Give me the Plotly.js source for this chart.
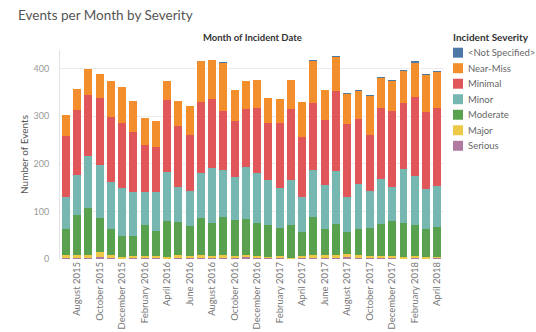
<!DOCTYPE html>
<html>
<head>
<meta charset="utf-8">
<script src="https://cdn.plot.ly/plotly-3.0.1.min.js"></script>
<style>html,body{margin:0;padding:0;background:#fff;}#chart{width:536px;height:332px;}</style>
</head>
<body>
<div id="chart"></div>
<script>
const months = ['July 2015','August 2015','September 2015','October 2015','November 2015','December 2015',
  'January 2016','February 2016','March 2016','April 2016','May 2016','June 2016','July 2016','August 2016',
  'September 2016','October 2016','November 2016','December 2016','January 2017','February 2017','March 2017',
  'April 2017','May 2017','June 2017','July 2017','August 2017','September 2017','October 2017','November 2017',
  'December 2017','January 2018','February 2018','March 2018','April 2018'];
const tickLabels = ['August 2015','October 2015','December 2015','February 2016','April 2016','June 2016',
  'August 2016','October 2016','December 2016','February 2017','April 2017','June 2017','August 2017',
  'October 2017','December 2017','February 2018','April 2018'];

const notSpecified = [0,0,0,0,0,0,0,0,0,0,0,0,0,0,2,0,0,0,0,0,0,0,2,1,3,3,3,1,3,3,3,3,3,2];
const nearMiss = [44,44,54,49,74,77,65,56,54,40,51,61,86,82,102,65,58,59,53,51,61,73,88,63,72,62,58,83,62,63,67,72,78,75];
const minimal  = [128,136,128,142,137,135,125,99,94,151,128,119,149,145,123,116,122,137,120,136,149,125,141,135,167,153,138,117,150,159,138,166,162,164];
const minor    = [68,84,110,111,99,101,92,69,83,102,75,73,94,115,99,92,109,104,93,84,94,74,98,93,112,75,94,77,94,72,113,102,83,86];
const moderate = [54,84,98,72,55,45,43,65,52,76,69,62,77,69,79,75,75,69,67,58,69,50,80,55,65,46,54,60,67,72,72,66,59,62];
const major    = [6,6,7,10,5,3,4,5,4,3,5,5,6,5,6,4,5,4,3,5,2,5,6,6,5,6,7,4,5,5,3,4,3,3];
const serious  = [3,3,2,4,3,1,2,2,2,1,3,2,3,2,3,2,4,3,2,2,1,2,2,2,3,4,2,2,2,2,1,2,1,2];

const severityNames = ['<Not Specified>','Near-Miss','Minimal','Minor','Moderate','Major','Serious'];
const severityColors = ['#4e79a7','#f28e2b','#e15759','#76b7b2','#59a14f','#edc948','#b07aa1'];
const severityValues = [notSpecified, nearMiss, minimal, minor, moderate, major, serious];

const FONT = 'Lato, "Open Sans", sans-serif';
const esc = s => s.replace('<','&lt;').replace('>','&gt;');

// stack from bottom: Serious ... Not Specified
const traces = [];
for (let i = severityNames.length - 1; i >= 0; i--) {
  traces.push({
    type: 'bar', name: severityNames[i], x: months, y: severityValues[i],
    marker: {color: severityColors[i], line: {width: 0}},
    hovertemplate: '%{x}<br>' + esc(severityNames[i]) + ': %{y}<extra></extra>'
  });
}

// pixel geometry of plot area
const L = 60, R = 92, T = 50, B = 72.5, W = 536, H = 332;
const pw = W - L - R, ph = H - T - B;
const px2x = p => (p - L) / pw;
const py2y = p => (H - B - p) / ph;

const annotations = [
  {text: 'Month of Incident Date', xref: 'paper', yref: 'paper', x: 0.5, y: py2y(37.5),
   xanchor: 'center', yanchor: 'middle', showarrow: false,
   font: {family: FONT, size: 9.5, color: '#333', weight: 'bold'}},
  {text: 'Incident Severity', xref: 'paper', yref: 'paper', x: px2x(451), y: py2y(37.3),
   xanchor: 'left', yanchor: 'middle', showarrow: false,
   font: {family: FONT, size: 10, color: '#333', weight: 'bold'}}
];
const shapes = [];
severityNames.forEach((name, i) => {
  const cy = 52.7 + i * 15.55;
  shapes.push({type: 'rect', xref: 'paper', yref: 'paper',
    x0: px2x(453), x1: px2x(463), y0: py2y(cy - 5), y1: py2y(cy + 5),
    fillcolor: severityColors[i], line: {width: 0}});
  annotations.push({text: esc(name), xref: 'paper', yref: 'paper',
    x: px2x(466), y: py2y(cy), xanchor: 'left', yanchor: 'middle', showarrow: false,
    font: {family: FONT, size: 9.5, color: '#666'}});
});

const layout = {
  width: W, height: H,
  margin: {l: L, r: R, t: T, b: B, pad: 0},
  paper_bgcolor: '#fff', plot_bgcolor: '#fff',
  barmode: 'stack', bargap: 0.29,
  showlegend: false,
  title: {text: 'Events per Month by Severity', xref: 'container', yref: 'container',
    x: 18 / W, xanchor: 'left', y: 1 - 15 / H, yanchor: 'middle',
    font: {family: FONT, size: 13.5, color: '#555'}},
  xaxis: {type: 'category', range: [-0.53, 33.6], tickmode: 'array', tickvals: tickLabels, ticktext: tickLabels,
    tickangle: -90, ticks: '', showgrid: false, zeroline: false, showline: false,
    tickfont: {family: FONT, size: 9.5, color: '#777'}, automargin: false},
  yaxis: {range: [0, 439], tickvals: [0, 100, 200, 300, 400], ticks: '', ticklabelstandoff: 8,
    showgrid: true, gridcolor: '#ececec', gridwidth: 1, zeroline: false,
    showline: true, linecolor: '#e2e2e2', linewidth: 1,
    title: {text: 'Number of Events', standoff: 3, font: {family: FONT, size: 10, color: '#555'}},
    tickfont: {family: FONT, size: 9, color: '#999'}, automargin: false},
  annotations: annotations,
  shapes: shapes,
  font: {family: FONT}
};

Plotly.newPlot('chart', traces, layout, {displayModeBar: false, staticPlot: true});
</script>
</body>
</html>
